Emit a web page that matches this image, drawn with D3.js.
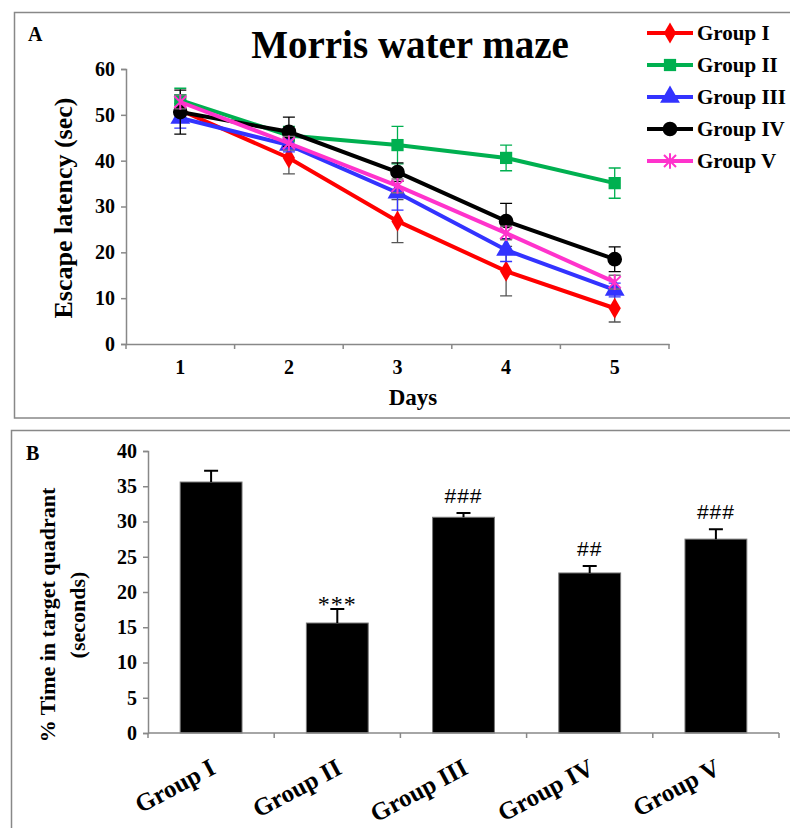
<!DOCTYPE html>
<meta charset="utf-8">
<style>
body{ margin:0; background:#fff; }
svg text{ font-family:"Liberation Serif","Times New Roman",serif; font-weight:bold; fill:#000; }
.axis path, .axis line{ stroke:#888; stroke-width:1.5px; }
</style>
<body>
<script src="https://cdn.jsdelivr.net/npm/d3@7"></script>
<script>

// panel A data: escape latency (sec), mean and error per day
var days = ['1', '2', '3', '4', '5']
var groupNames = ['Group I', 'Group II', 'Group III', 'Group IV', 'Group V']
var g1 = [51.0, 40.6, 26.8, 15.9, 7.8],  g1err = [1.5, 3.5, 4.7, 5.4, 3.0]
var g2 = [53.2, 45.5, 43.4, 40.6, 35.1], g2err = [2.6, 2.0, 4.1, 2.8, 3.3]
var g3 = [49.3, 43.4, 33.0, 20.5, 11.8], g3err = [2.2, 1.5, 3.8, 2.5, 1.5]
var g4 = [50.6, 46.3, 37.5, 26.8, 18.5], g4err = [4.8, 3.2, 2.0, 3.9, 2.7]
var g5 = [52.8, 43.8, 34.5, 24.2, 13.5], g5err = [1.5, 1.5, 1.5, 1.5, 1.5]
var yTicksA = [0, 10, 20, 30, 40, 50, 60]

// panel B data: % time in target quadrant
var barMeans = [35.6, 15.6, 30.6, 22.7, 27.5]
var barErrs = [1.6, 2.0, 0.6, 1.0, 1.4]
var barSig = ['', '***', '###', '##', '###']
var yTicksB = [0, 5, 10, 15, 20, 25, 30, 35, 40]

var colors = ['#ff0000', '#00b050', '#3333ff', '#000000', '#ff33cc']
var errColors = ['#555', '#00b050', '#3333ff', '#000', '#777']

var series = [
  {name: groupNames[0], values: g1, errs: g1err},
  {name: groupNames[1], values: g2, errs: g2err},
  {name: groupNames[2], values: g3, errs: g3err},
  {name: groupNames[3], values: g4, errs: g4err},
  {name: groupNames[4], values: g5, errs: g5err}
]

var svg = d3.select('body').append('svg')
    .attr('width', 790)
    .attr('height', 828)

// panel frames
svg.append('rect')
    .attr('x', 14.5).attr('y', 12.5).attr('width', 800).attr('height', 405.5)
    .style('fill', 'none').style('stroke', '#888').style('stroke-width', 1.5)
svg.append('rect')
    .attr('x', 11.5).attr('y', 430.5).attr('width', 800).attr('height', 420)
    .style('fill', 'none').style('stroke', '#888').style('stroke-width', 1.5)

// ---------- panel A ----------
var xA = d3.scaleBand().domain(days).range([126, 669])
var yA = d3.scaleLinear().domain([0, 60]).range([344, 69])

svg.append('text').attr('x', 28).attr('y', 41).style('font-size', '20px').text('A')
svg.append('text').attr('x', 410).attr('y', 58).attr('text-anchor', 'middle')
    .style('font-size', '39px').text('Morris water maze')

var gyA = svg.append('g').attr('class', 'axis')
    .attr('transform', 'translate(126,0)')
    .call(d3.axisLeft(yA).tickValues(yTicksA).tickSize(5).tickPadding(6))
gyA.selectAll('text').style('font-size', '20px')

var gxA = svg.append('g').attr('class', 'axis')
    .attr('transform', 'translate(0,344)')
    .call(d3.axisBottom(xA).tickSize(0).tickPadding(16))
gxA.selectAll('text').style('font-size', '20px')
// ticks sit on the category boundaries
gxA.selectAll('.bound').data(d3.range(days.length + 1)).enter().append('line')
    .attr('x1', function(i){ return 126 + i * xA.step() })
    .attr('x2', function(i){ return 126 + i * xA.step() })
    .attr('y1', 0).attr('y2', 5)

svg.append('text').attr('transform', 'translate(72,208) rotate(-90)')
    .attr('text-anchor', 'middle').style('font-size', '26px').text('Escape latency (sec)')
svg.append('text').attr('x', 413).attr('y', 405).attr('text-anchor', 'middle')
    .style('font-size', '23px').text('Days')

var cx = function(i){ return xA(days[i]) + xA.bandwidth() / 2 }

function star(size){
  var r = size
  return 'M' + (-r) + ',' + (-r) + 'L' + r + ',' + r +
         'M' + (-r) + ',' + r + 'L' + r + ',' + (-r) +
         'M0,' + (-r * 1.3) + 'L0,' + (r * 1.3)
}
var symbols = [d3.symbolDiamond, d3.symbolSquare, d3.symbolTriangle, d3.symbolCircle]
var symSizes = [130, 150, 170, 170]

function marker(g, k){
  if (k < 4) {
    g.append('path').attr('d', d3.symbol().type(symbols[k]).size(symSizes[k])())
        .style('fill', colors[k])
  } else {
    g.append('path').attr('d', star(6))
        .style('fill', 'none').style('stroke', colors[k]).style('stroke-width', 2)
  }
}

var line = d3.line()
    .x(function(d, i){ return cx(i) })
    .y(function(d){ return yA(d) })

series.forEach(function(s, k){
  var g = svg.append('g')
  // error bars
  s.values.forEach(function(v, i){
    var x = cx(i), top = yA(v + s.errs[i]), bot = yA(v - s.errs[i])
    g.append('path')
        .attr('d', 'M' + x + ',' + top + 'V' + bot +
                   'M' + (x - 6) + ',' + top + 'H' + (x + 6) +
                   'M' + (x - 6) + ',' + bot + 'H' + (x + 6))
        .style('fill', 'none').style('stroke', errColors[k]).style('stroke-width', 1.3)
  })
  g.append('path').datum(s.values).attr('d', line)
      .style('fill', 'none').style('stroke', colors[k]).style('stroke-width', 4)
  s.values.forEach(function(v, i){
    var m = g.append('g').attr('transform', 'translate(' + cx(i) + ',' + yA(v) + ')')
    marker(m, k)
  })
})

// legend
var legend = svg.append('g')
series.forEach(function(s, k){
  var y = 33 + k * 32
  legend.append('line').attr('x1', 647).attr('x2', 693).attr('y1', y).attr('y2', y)
      .style('stroke', colors[k]).style('stroke-width', 4)
  var m = legend.append('g').attr('transform', 'translate(670,' + y + ')')
  marker(m, k)
  legend.append('text').attr('x', 697).attr('y', y + 7).style('font-size', '21px').text(s.name)
})

// ---------- panel B ----------
var xB = d3.scaleBand().domain(groupNames).range([148, 779]).paddingInner(0.51).paddingOuter(0.255)
var yB = d3.scaleLinear().domain([0, 40]).range([733, 451])

svg.append('text').attr('x', 26).attr('y', 460).style('font-size', '20px').text('B')

var gyB = svg.append('g').attr('class', 'axis')
    .attr('transform', 'translate(148,0)')
    .call(d3.axisLeft(yB).tickValues(yTicksB).tickSize(5).tickPadding(6))
gyB.selectAll('text').style('font-size', '20px')

svg.append('g').selectAll('rect').data(barMeans).enter().append('rect')
    .attr('x', function(d, i){ return xB(groupNames[i]) })
    .attr('width', xB.bandwidth())
    .attr('y', function(d){ return yB(d) })
    .attr('height', function(d){ return yB(0) - yB(d) })
    .style('fill', '#000').style('stroke', '#777').style('stroke-width', 1)

barMeans.forEach(function(v, i){
  var x = xB(groupNames[i]) + xB.bandwidth() / 2
  var top = yB(v + barErrs[i])
  svg.append('path')
      .attr('d', 'M' + x + ',' + yB(v) + 'V' + top + 'M' + (x - 7) + ',' + top + 'H' + (x + 7))
      .style('fill', 'none').style('stroke', '#000').style('stroke-width', 2)
  if (barSig[i]) {
    var star = barSig[i].charAt(0) == '*'
    svg.append('text').attr('x', x).attr('y', star ? top + 3 : top - 10)
        .attr('text-anchor', 'middle')
        .style('font-family', star ? '"Liberation Serif", serif' : '"Liberation Sans", Arial, sans-serif')
        .style('font-weight', 'normal')
        .style('font-size', star ? '24px' : '21px')
        .style('letter-spacing', '1px')
        .text(barSig[i])
  }
})

var step = (779 - 148) / groupNames.length
var gxB = svg.append('g').attr('class', 'axis').attr('transform', 'translate(0,733)')
gxB.append('line').attr('x1', 148).attr('x2', 779).attr('y1', 0).attr('y2', 0)
gxB.selectAll('.tick').data(d3.range(groupNames.length + 1)).enter().append('line')
    .attr('x1', function(i){ return 148 + i * step })
    .attr('x2', function(i){ return 148 + i * step })
    .attr('y1', 0).attr('y2', 5)
gxB.selectAll('text').data(groupNames).enter().append('text')
    .attr('text-anchor', 'end')
    .attr('transform', function(d){
      var x = xB(d) + xB.bandwidth() / 2 + 6
      return 'translate(' + x + ',40) rotate(-28)'
    })
    .style('font-size', '25px')
    .text(function(d){ return d })

svg.append('text').attr('transform', 'translate(55,615) rotate(-90)')
    .attr('text-anchor', 'middle').style('font-size', '22px').text('% Time in target quadrant')
svg.append('text').attr('transform', 'translate(85,615) rotate(-90)')
    .attr('text-anchor', 'middle').style('font-size', '22px').text('(seconds)')

</script>
